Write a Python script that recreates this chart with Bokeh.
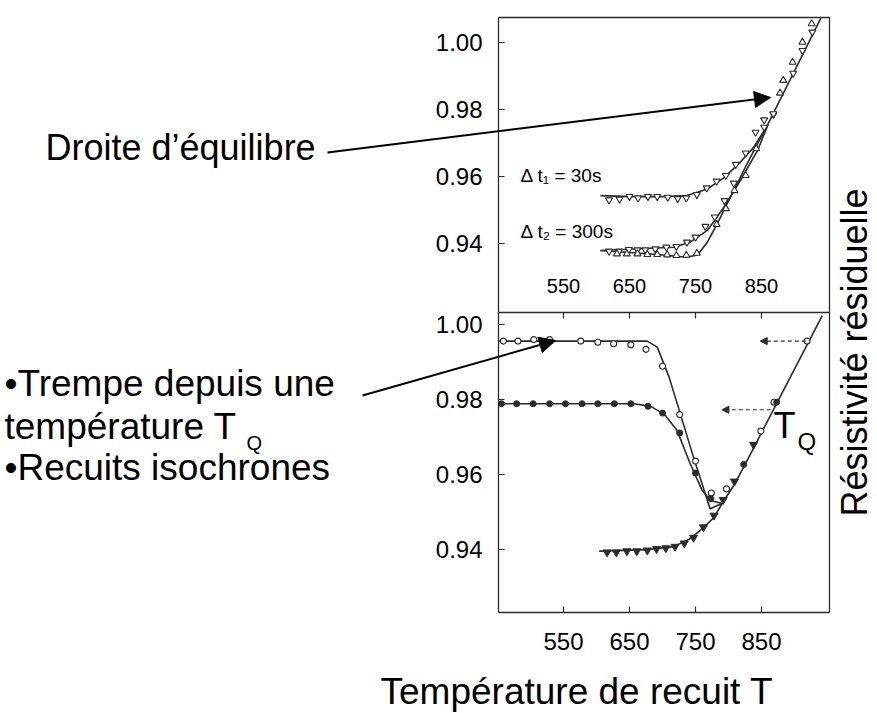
from math import pi
from bokeh.plotting import figure
from bokeh.models import (Range1d, FixedTicker, LinearAxis, Arrow, NormalHead, Label,
                          PrintfTickFormatter)
from bokeh.embed import file_html
from bokeh.resources import INLINE

# ---------------- data ----------------
x_ticks = [550, 650, 750, 850]
x_tick_labels = ["550", "650", "750", "850"]
y_ticks = [0.94, 0.96, 0.98, 1.00]

# top panel: isochronal anneals, dt1 = 30 s (open down triangles)
t30_T = [619, 635, 650, 663, 678, 692, 708, 723, 736, 752, 767, 782, 796, 811, 826, 841, 854, 868, 898, 912, 927]
t30_R = [0.9530, 0.9532, 0.9540, 0.9536, 0.9540, 0.9540, 0.9538, 0.9534, 0.9536, 0.9546, 0.9566, 0.9586,
         0.9603, 0.9636, 0.9670, 0.9732, 0.9769, 0.9785, 0.9908, 0.9976, 1.0031]
# dt2 = 300 s, open down triangles
t300a_T = [619, 634, 649, 662, 674, 689, 706, 721, 737, 750, 765, 779, 794, 808, 854, 868]
t300a_R = [0.9377, 0.9377, 0.9382, 0.9381, 0.9381, 0.9384, 0.9389, 0.9391, 0.9404, 0.9419, 0.9451, 0.9479,
           0.9528, 0.9580, 0.9747, 0.9787]
# dt2 = 300 s, open up triangles
t300b_T = [631, 646, 662, 677, 692, 707, 721, 736, 752, 782, 796, 809, 826, 842, 878, 883, 897, 912, 926]
t300b_R = [0.9369, 0.9369, 0.9369, 0.9367, 0.9367, 0.9366, 0.9364, 0.9365, 0.9371, 0.9457, 0.9504, 0.9558,
           0.9603, 0.9683, 0.9849, 0.9887, 0.9941, 1.0001, 1.0056]
# fitted curves, top panel
c30_T = [606, 650, 700, 737, 768, 793, 818, 838, 858]
c30_R = [0.9543, 0.9540, 0.9540, 0.9543, 0.9563, 0.9596, 0.9643, 0.9687, 0.9750]
c300a_T = [606, 717, 742, 768, 793, 818, 844, 860]
c300a_R = [0.9379, 0.9389, 0.9404, 0.9439, 0.9508, 0.9588, 0.9678, 0.9755]
c300b_T = [606, 692, 737, 753, 768, 783, 798, 813, 828, 844, 859]
c300b_R = [0.9379, 0.9367, 0.9359, 0.9366, 0.9404, 0.9459, 0.9519, 0.9578, 0.9638, 0.9698, 0.9752]
eq_top_T = [854, 940]
eq_top_R = [0.9734, 1.0073]

# bottom panel: quench from T_Q (open: higher T_Q, filled: lower T_Q), slow cooled (filled down triangles)
open_T = [459, 481, 505, 529, 576, 602, 626, 652, 675, 700, 726, 750, 774, 797, 849, 869, 919]
open_R = [0.9955, 0.9955, 0.9959, 0.9959, 0.9955, 0.9952, 0.9948, 0.9945, 0.9933, 0.9888, 0.9759, 0.9635,
          0.9550, 0.9561, 0.9715, 0.9792, 0.9955]
fill_T = [456, 479, 504, 529, 553, 578, 602, 627, 652, 678, 700, 726, 750, 773, 823, 873]
fill_R = [0.9788, 0.9788, 0.9788, 0.9788, 0.9788, 0.9788, 0.9788, 0.9788, 0.9788, 0.9781, 0.9763, 0.9710,
          0.9603, 0.9535, 0.9626, 0.9792]
tri_T = [616, 630, 646, 661, 677, 691, 705, 719, 733, 747, 762, 778, 792, 809, 838]
tri_R = [0.9392, 0.9392, 0.9395, 0.9395, 0.9397, 0.9401, 0.9403, 0.9407, 0.9416, 0.9431, 0.9459, 0.9490,
         0.9532, 0.9581, 0.9679]
copen_T = [452, 677, 692, 710, 727, 747, 772, 790]
copen_R = [0.9955, 0.9955, 0.9939, 0.9859, 0.9761, 0.9645, 0.9508, 0.9522]
cfill_T = [452, 657, 682, 702, 722, 742, 760, 773, 790]
cfill_R = [0.9788, 0.9788, 0.9781, 0.9761, 0.9717, 0.9628, 0.9557, 0.9530, 0.9522]
ctri_T = [604, 677, 717, 742, 763, 778, 793, 808, 823]
ctri_R = [0.9395, 0.9399, 0.9407, 0.9428, 0.9459, 0.9485, 0.9530, 0.9570, 0.9619]
eq_bot_T = [823, 942]
eq_bot_R = [0.9619, 1.0023]
# dashed arrows (T_Q read back on the equilibrium line)
dash1_T = [917, 848]
dash1_R = 0.9955
dash2_T = [864, 790]
dash2_R = 0.9772

# ---------------- layout ----------------
W, H = 877, 713
FL, FR, FT, FD, FB = 498, 829, 17, 312, 612      # box left/right/top, divider, bottom (px)
XL, XR = 451.5, 953.0                             # temperature at box left/right
TOP_LO, TOP_HI = 0.91940, 1.00746                 # upper panel values at divider / top
BOT_LO, BOT_HI = 0.92313, 1.00313                 # lower panel values at bottom / divider

kx = (XR - XL) / (FR - FL)
ky = (TOP_HI - TOP_LO) / (FD - FT)
kb = (BOT_HI - BOT_LO) / (FB - FD)
xr = Range1d(XL - FL * kx, XR + (W - FR) * kx)
top_r = Range1d(TOP_LO - (H - FD) * ky, TOP_HI + FT * ky)
bot_r = Range1d(BOT_LO - (H - FB) * kb, BOT_HI + FD * kb)


def sx(px):
    return xr.start + px * kx


def sy(py):
    return top_r.end - py * ky


FONT = "Liberation Sans"
INK = "#2b2b2b"

p = figure(width=W, height=H, x_range=xr, y_range=top_r, output_backend="svg",
           toolbar_location=None, min_border=0)
p.extra_y_ranges = {"bot": bot_r}
p.xgrid.visible = False
p.ygrid.visible = False
p.background_fill_color = "white"
p.border_fill_color = "white"
p.outline_line_color = None


def style_axis(ax, size="24px", tin=6, tout=0, standoff=16):
    ax.minor_tick_line_color = None
    ax.major_tick_in = tin
    ax.major_tick_out = tout
    ax.major_label_standoff = standoff
    ax.major_label_text_font = FONT
    ax.major_label_text_font_size = size
    ax.major_label_text_color = "black"
    ax.axis_line_color = INK
    ax.axis_line_width = 1.3
    ax.major_tick_line_color = INK
    ax.major_tick_line_width = 1.2


# upper panel y axis
yax = p.yaxis[0]
yax.fixed_location = XL
yax.bounds = (TOP_LO, TOP_HI)
yax.ticker = FixedTicker(ticks=y_ticks)
yax.formatter = PrintfTickFormatter(format="%.2f")
style_axis(yax)
# lower panel y axis
yax2 = LinearAxis(y_range_name="bot", fixed_location=XL, bounds=(BOT_LO, BOT_HI),
                  ticker=FixedTicker(ticks=y_ticks), formatter=PrintfTickFormatter(format="%.2f"))
style_axis(yax2)
p.add_layout(yax2, "left")

# bottom x axis (lower panel)
xax = p.xaxis[0]
xax.fixed_location = sy(FB)
xax.bounds = (XL, XR)
xax.ticker = FixedTicker(ticks=x_ticks)
xax.major_label_overrides = {t: l for t, l in zip(x_ticks, x_tick_labels)}
style_axis(xax, standoff=20)
# divider between the panels, carrying the upper panel's temperature labels
xax2 = LinearAxis(fixed_location=TOP_LO, bounds=(XL, XR), ticker=FixedTicker(ticks=x_ticks))
xax2.major_label_overrides = {t: l for t, l in zip(x_ticks, x_tick_labels)}
style_axis(xax2, size="20px", standoff=20)
p.add_layout(xax2, "above")

# top and right borders of the box
p.line([XL, XR, XR], [TOP_HI, TOP_HI, sy(FB)], line_color=INK, line_width=1.3)

# ---- upper panel curves and points
for cx, cy in [(c30_T, c30_R), (c300a_T, c300a_R), (c300b_T, c300b_R), (eq_top_T, eq_top_R)]:
    p.line(cx, cy, line_color=INK, line_width=1.6)
p.scatter(t30_T, t30_R, marker="inverted_triangle", size=7, fill_color="white", line_color=INK, line_width=1.1)
p.scatter(t300a_T, t300a_R, marker="inverted_triangle", size=7, fill_color="white", line_color=INK, line_width=1.1)
p.scatter(t300b_T, t300b_R, marker="triangle", size=7, fill_color="white", line_color=INK, line_width=1.1)

# ---- lower panel curves and points
for cx, cy in [(copen_T, copen_R), (cfill_T, cfill_R), (ctri_T, ctri_R), (eq_bot_T, eq_bot_R)]:
    p.line(cx, cy, line_color=INK, line_width=1.6, y_range_name="bot")
p.scatter(open_T, open_R, marker="circle", size=6, fill_color="white", line_color=INK, line_width=1.1,
          y_range_name="bot")
p.scatter(fill_T, fill_R, marker="circle", size=6, fill_color=INK, line_color=INK, y_range_name="bot")
p.scatter(tri_T, tri_R, marker="inverted_triangle", size=8, fill_color=INK, line_color=INK, y_range_name="bot")

for dT, dR in [(dash1_T, dash1_R), (dash2_T, dash2_R)]:
    p.add_layout(Arrow(x_start=dT[0], y_start=dR, x_end=dT[1], y_end=dR, y_range_name="bot",
                       line_color=INK, line_width=1.1, line_dash="4 3",
                       end=NormalHead(size=7, fill_color=INK, line_color=INK)))

# ---- annotation arrows
p.add_layout(Arrow(x_start=sx(327), y_start=sy(152), x_end=sx(770), y_end=sy(97),
                   line_color="black", line_width=2,
                   end=NormalHead(size=16, fill_color="black", line_color="black")))
p.add_layout(Arrow(x_start=sx(362), y_start=sy(395), x_end=sx(555), y_end=sy(340),
                   line_color="black", line_width=2,
                   end=NormalHead(size=16, fill_color="black", line_color="black")))

SHIFT = 0.28  # renderer places the alphabetic baseline a little low


def label(text, px, py, fs, vertical=False, **kw):
    if vertical:
        px = px - SHIFT * fs
        kw.update(angle=pi / 2, text_align="center")
    else:
        py = py - SHIFT * fs
    p.add_layout(Label(x=sx(px), y=sy(py), text=text, text_font=FONT, text_font_size=f"{fs}px",
                       text_color="black", text_baseline="alphabetic", **kw))


label("Droite d\u2019\u00e9quilibre", 45, 157, 36)
label("\u2022Trempe depuis une", 4, 393, 37)
label("temp\u00e9rature T", 4, 436, 37)
label("Q", 246, 448, 20)
label("\u2022Recuits isochrones", 4, 477, 37)
label("\u0394 t\u2081 = 30s", 520, 180, 19)
label("\u0394 t\u2082 = 300s", 520, 236, 19)
label("T", 773, 435, 36)
label("Q", 797, 448, 24)
label("Temp\u00e9rature de recuit T", 380, 701, 37)
label("R\u00e9sistivit\u00e9 r\u00e9siduelle", 864, 352, 36, vertical=True)

open("out.html", "w").write(file_html(p, INLINE))
